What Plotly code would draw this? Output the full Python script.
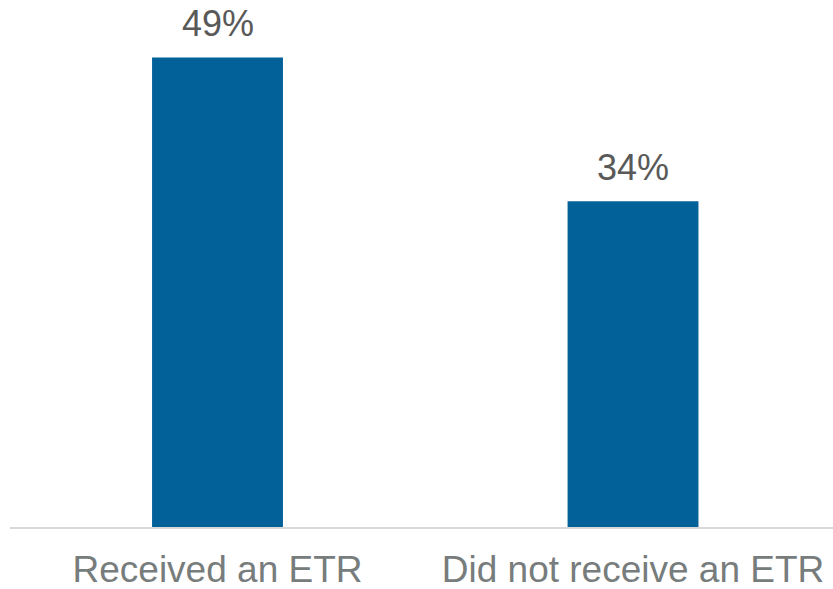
import plotly.graph_objects as go

categories = ["Received an ETR", "Did not receive an ETR"]
values = [49, 34]
value_labels = [f"{v}%" for v in values]

BAR_COLOR = "#03619a"
VALUE_COLOR = "#595959"
TICK_COLOR = "#777c7c"
FONT = "Liberation Sans, Arial, sans-serif"

fig = go.Figure(
    go.Bar(
        x=categories,
        y=values,
        width=0.315,
        marker=dict(color=BAR_COLOR, line=dict(width=0)),
        hoverinfo="skip",
    )
)

# value labels sitting above each bar
for cat, val, lab in zip(categories, values, value_labels):
    fig.add_annotation(
        x=cat, y=val, text=lab, showarrow=False,
        xanchor="center", yanchor="bottom", yshift=11,
        font=dict(family=FONT, size=36, color=VALUE_COLOR),
    )

fig.update_layout(
    width=833, height=589,
    margin=dict(l=10, r=0, t=0, b=62),
    paper_bgcolor="white", plot_bgcolor="white",
    showlegend=False,
    xaxis=dict(
        type="category",
        range=[-0.4994, 1.4813],
        showline=True, linecolor="#d9d9d9", linewidth=2,
        showgrid=False, ticks="", zeroline=False,
        tickfont=dict(family=FONT, size=37, color=TICK_COLOR),
        ticklabelstandoff=9,
        automargin=False,
    ),
    yaxis=dict(
        range=[0, 55.0], visible=False, showgrid=False, zeroline=False,
    ),
)

fig.write_html("out.html")
